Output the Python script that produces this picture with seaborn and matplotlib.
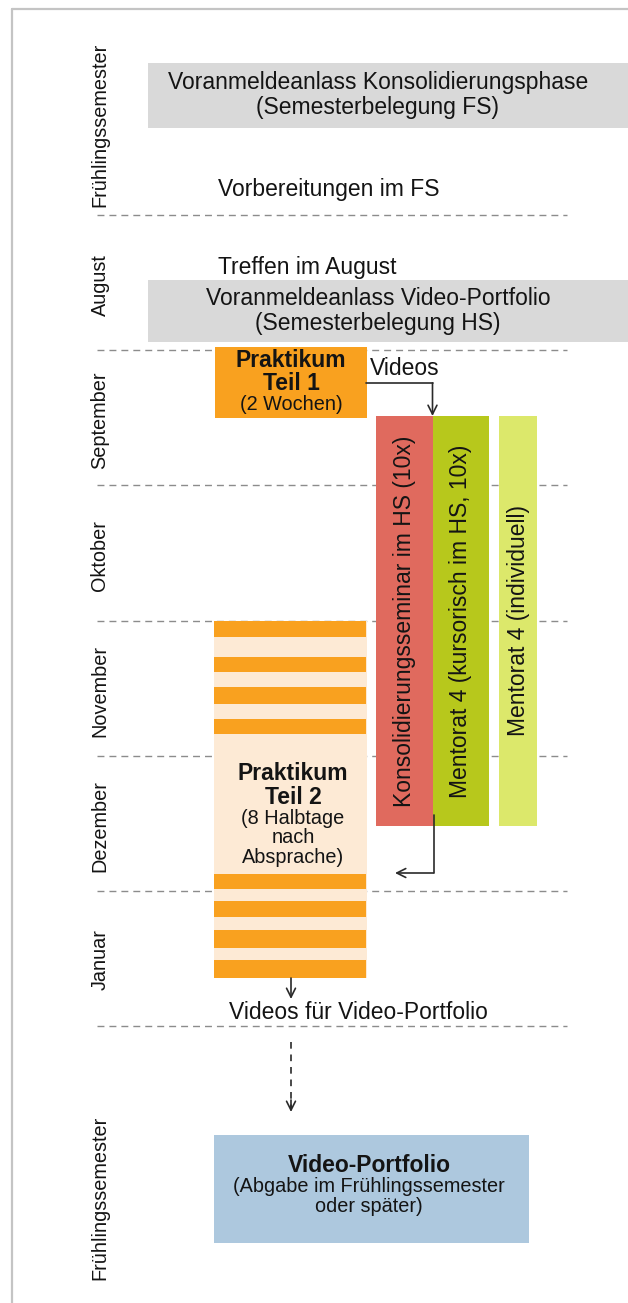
import matplotlib
matplotlib.use("Agg")
import matplotlib.pyplot as plt
import seaborn as sns
from matplotlib.lines import Line2D

sns.set_theme(style="white")
plt.rcParams["font.family"] = ["Liberation Sans", "DejaVu Sans"]

# ------------------------------------------------------------------ data
# time axis: months after 1 August (0 = start of August)
period_labels = ["Frühlingssemester", "August", "September", "Oktober",
                 "November", "Dezember", "Januar", "Frühlingssemester"]
period_centers = [-0.67, 0.52, 1.52, 2.52, 3.52, 4.52, 5.51, 7.27]
month_boundaries = [0, 1, 2, 3, 4, 5, 6]

registration_labels = ["Voranmeldeanlass Konsolidierungsphase\n(Semesterbelegung FS)",
                       "Voranmeldeanlass Video-Portfolio\n(Semesterbelegung HS)"]
registration_start = [-1.125, 0.48]
registration_end = [-0.645, 0.94]

course_labels = ["Konsolidierungsseminar im HS (10x)",
                 "Mentorat 4 (kursorisch im HS, 10x)",
                 "Mentorat 4 (individuell)"]
course_start = [1.487, 1.487, 1.487]
course_end = [4.52, 4.52, 4.52]

practicum_titles = ["Praktikum\nTeil 1", "Praktikum\nTeil 2"]
practicum_notes = ["(2 Wochen)", "(8 Halbtage\nnach\nAbsprache)"]
practicum_start = [0.977, 3.0]
practicum_end = [1.502, 5.645]

halfday_start = [3.00, 3.27, 3.49, 3.73, 4.875, 5.075, 5.29, 5.515]
halfday_end = [3.12, 3.38, 3.62, 3.84, 4.99, 5.19, 5.42, 5.645]

portfolio_title = "Video-Portfolio"
portfolio_note = "(Abgabe im Frühlingssemester\noder später)"
portfolio_start = 6.807
portfolio_end = 7.605

note_labels = ["Vorbereitungen im FS", "Treffen im August", "Videos",
               "Videos für Video-Portfolio"]
note_times = [-0.185, 0.385, 1.132, 5.903]

# ------------------------------------------------------------------ layout
W, H = 628, 1303
Y0, MONTH_PX = 215.0, 135.17


def t_of(px):
    return (px - Y0) / MONTH_PX


def dt(px):
    return px / MONTH_PX


C_GRAY = "#d9d9d9"
C_ORANGE = "#f9a11f"
C_PEACH = "#fdeAD5"
C_RED = "#e06a5e"
C_OLIVE = "#b7c81c"
C_LIGHT = "#dce86b"
C_BLUE = "#adc8de"
C_TXT = "#141414"
C_ARROW = "#2a2a2a"

F_MAIN = 16.5
F_SMALL = 14.3
F_MONTH = 14.3

fig = plt.figure(figsize=(W / 100, H / 100), dpi=100)
ax = fig.add_axes([0, 0, 1, 1])
ax.set_xlim(0, W)
ax.set_ylim(t_of(H), t_of(0))
ax.axis("off")
sns.despine(ax=ax, left=True, bottom=True)

# frame (left and top)
fig.add_artist(Line2D([11.5 / W, 11.5 / W], [0, 1 - 8.5 / H], color="#c4c4c4", lw=1.6))
fig.add_artist(Line2D([11.5 / W, 1], [1 - 8.5 / H, 1 - 8.5 / H], color="#c4c4c4", lw=1.6))

# month boundaries
for b in month_boundaries:
    ax.plot([97, 567], [b, b], color="#8c8c8c", lw=1.0, dashes=(5, 3.6), zorder=1)

# period labels
for lab, c in zip(period_labels, period_centers):
    ax.text(100, c, lab, rotation=90, ha="center", va="center",
            fontsize=F_MONTH, color=C_TXT)


def multiline(x, yc, text, size, weight="normal", spacing_px=25):
    lines = text.split("\n")
    n = len(lines)
    for i, ln in enumerate(lines):
        y = yc + dt((i - (n - 1) / 2) * spacing_px)
        ax.text(x, y, ln, ha="center", va="center", fontsize=size,
                fontweight=weight, color=C_TXT, zorder=5)


# registration (gray) boxes
ax.bar(x=(148 + 640) / 2, height=[e - s for s, e in zip(registration_start, registration_end)],
       bottom=registration_start, width=640 - 148, color=C_GRAY, linewidth=0, zorder=2)
for lab, s, e in zip(registration_labels, registration_start, registration_end):
    multiline(378, (s + e) / 2, lab, F_MAIN, spacing_px=25)

# course columns
lane_left = [376, 433, 499]
lane_right = [433, 489, 537]
lane_colors = [C_RED, C_OLIVE, C_LIGHT]
for lab, s, e, l, r, col in zip(course_labels, course_start, course_end,
                                lane_left, lane_right, lane_colors):
    ax.bar(x=(l + r) / 2, height=e - s, bottom=s, width=r - l, color=col,
           linewidth=0, zorder=2)
    ax.text((l + r) / 2, (s + e) / 2, lab, rotation=90, ha="center", va="center",
            fontsize=F_MAIN, color=C_TXT, zorder=5)

# practicum part 1 (solid) and part 2 (peach with half-day stripes)
P_L, P_R = 214, 367
ax.bar(x=(P_L + P_R) / 2, height=practicum_end[0] - practicum_start[0],
       bottom=practicum_start[0], width=P_R - P_L - 1, color=C_ORANGE,
       linewidth=0, zorder=2)
ax.bar(x=(P_L + P_R) / 2, height=practicum_end[1] - practicum_start[1],
       bottom=practicum_start[1], width=P_R - P_L, color=C_PEACH,
       linewidth=0, zorder=2)
ax.bar(x=(P_L + P_R - 1) / 2, height=[e - s for s, e in zip(halfday_start, halfday_end)],
       bottom=halfday_start, width=P_R - P_L - 1, color=C_ORANGE,
       linewidth=0, zorder=3)

# practicum texts
multiline(291, practicum_start[0] + dt(25), practicum_titles[0], F_MAIN, "bold", 23)
multiline(291, practicum_start[0] + dt(57), practicum_notes[0], F_SMALL, spacing_px=20)
multiline(293, t_of(785.5), practicum_titles[1], F_MAIN, "bold", 25)
multiline(293, t_of(837.5), practicum_notes[1], F_SMALL, spacing_px=19.5)

# video portfolio box
B_L, B_R = 214, 529
ax.bar(x=(B_L + B_R) / 2, height=portfolio_end - portfolio_start,
       bottom=portfolio_start, width=B_R - B_L, color=C_BLUE, linewidth=0, zorder=2)
ax.text(369, t_of(1165), portfolio_title, ha="center", va="center",
        fontsize=F_MAIN, fontweight="bold", color=C_TXT, zorder=5)
multiline(369, t_of(1197), portfolio_note, F_SMALL, spacing_px=20)

# notes
note_x = [218, 218, 370, 358]
note_ha = ["left", "left", "left", "center"]
for lab, t, x, ha in zip(note_labels, note_times, note_x, note_ha):
    ax.text(x, t, lab, ha=ha, va="center", fontsize=F_MAIN, color=C_TXT, zorder=5)

# arrows
akw = dict(arrowstyle="->", color=C_ARROW, lw=1.2, shrinkA=0, shrinkB=0,
           mutation_scale=16)
ax.plot([366, 432.5], [t_of(383), t_of(383)], color=C_ARROW, lw=1.2, zorder=6)
ax.annotate("", xy=(432.5, course_start[0]), xytext=(432.5, t_of(383)),
            arrowprops=akw, zorder=6)
ax.plot([433.5, 433.5], [t_of(815), t_of(873)], color=C_ARROW, lw=1.2, zorder=6)
ax.annotate("", xy=(395, t_of(873)), xytext=(433.5, t_of(873)),
            arrowprops=akw, zorder=6)
ax.annotate("", xy=(291, t_of(999)), xytext=(291, practicum_end[1]),
            arrowprops=akw, zorder=6)
ax.plot([291, 291], [t_of(1042), t_of(1108)], color=C_ARROW, lw=1.2,
        dashes=(4, 3.5), zorder=6)
ax.annotate("", xy=(291, t_of(1112)), xytext=(291, t_of(1100)),
            arrowprops=akw, zorder=6)

fig.savefig("out.png", dpi=100, facecolor="white")
